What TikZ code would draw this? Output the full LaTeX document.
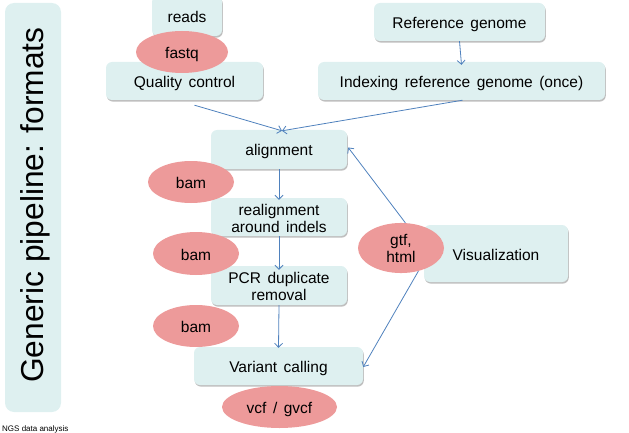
\documentclass[tikz,border=0pt]{standalone}
\usepackage{fontspec}
\setmainfont{Liberation Sans}
\usetikzlibrary{shapes.geometric,arrows.meta,shadows}
\definecolor{boxfill}{RGB}{222,240,240}
\definecolor{ellfill}{RGB}{237,154,154}
\definecolor{arrcol}{RGB}{79,129,189}
\newcommand{\myboxfont}{\fontsize{15.5}{17.3}\selectfont\spaceskip=0.42em\relax}
\tikzset{
  pbox/.style={rectangle, rounded corners=6pt, fill=boxfill, draw=none,
    drop shadow={shadow xshift=0.8pt, shadow yshift=-1.6pt, fill=black, opacity=0.25},
    align=center, inner sep=0pt, font=\myboxfont, text height=16.5pt, text depth=3.5pt},
  fmt/.style={ellipse, fill=ellfill, draw=none, inner sep=0pt, align=center,
    font=\myboxfont, text height=16.5pt, text depth=3.5pt},
  twoline/.style={text height=34pt, text depth=3.4pt},
  arr/.style={draw=arrcol, line width=0.8pt, -{Straight Barb[length=4pt,width=8pt]}},
}
\begin{document}
\begin{tikzpicture}[x=1pt,y=-1pt]
\useasboundingbox (0,0) rectangle (629,433);
\clip (0,0) rectangle (629,433);
% title panel
\node[rectangle, rounded corners=9pt, fill=boxfill, minimum width=56pt, minimum height=409pt] (panel) at (33,207.5) {};
\node[rotate=90, anchor=base, font=\fontsize{31.7}{36}\selectfont] (title) at (43,205) {Generic pipeline: formats};
% boxes
\node[pbox, minimum width=70pt, minimum height=40pt] (reads) at (187,16) {reads};
\node[pbox, minimum width=157pt, minimum height=38pt] (qc) at (184.5,81) {Quality control};
\node[pbox, minimum width=171pt, minimum height=38pt] (ref) at (459.5,22) {Reference genome};
\node[pbox, minimum width=287pt, minimum height=38pt] (index) at (461.5,81) {Indexing reference genome (once)};
\node[pbox, minimum width=136pt, minimum height=39pt] (align) at (279,149.5) {alignment};
\node[pbox, twoline, minimum width=136pt, minimum height=38pt] (realign) at (279,217) {realignment\\around indels};
\node[pbox, twoline, minimum width=136pt, minimum height=39pt] (pcr) at (279,285.5) {PCR duplicate\\removal};
\node[pbox, minimum width=169pt, minimum height=38pt] (var) at (278.5,366) {Variant calling};
\node[pbox, minimum width=144pt, minimum height=57pt] (vis) at (496,253.5) {Visualization};
% formats
\node[fmt, minimum width=92pt, minimum height=42pt] (fastq) at (182,52) {fastq};
\node[fmt, minimum width=86pt, minimum height=42pt] (bam1) at (191,182) {bam};
\node[fmt, minimum width=86pt, minimum height=43pt] (bam2) at (196,253.5) {bam};
\node[fmt, minimum width=86pt, minimum height=42pt] (bam3) at (196,326) {bam};
\node[fmt, minimum width=115pt, minimum height=42pt] (vcf) at (279.5,407) {vcf / gvcf};
\node[fmt, twoline, text height=32pt, minimum width=86pt, minimum height=44pt] (gtf) at (401,248) {gtf,\\html};
% connectors
\draw[arr] (ref.south) -- ([yshift=-3pt]index.north);
\draw[arr] ([xshift=10pt,yshift=-5pt]qc.south) -- ([xshift=3pt,yshift=-1pt]align.north);
\draw[arr] ([xshift=1pt]index.south) -- ([xshift=3pt,yshift=-1pt]align.north);
\draw[arr] (align.south) -- ([yshift=-2pt]realign.north);
\draw[arr] (realign.south) -- ([yshift=-4pt]pcr.north);
\draw[arr] (pcr.south) -- ([yshift=-1pt]var.north);
\draw[arr] (gtf.80) -- ([xshift=1pt,yshift=2pt]align.east);
\draw[arr] (gtf.-53) -- ([yshift=-1pt]var.east);
% footer
\node[anchor=base west, font=\fontsize{8}{9}\selectfont, inner sep=0pt] (footer) at (2,431) {NGS data analysis};
\end{tikzpicture}
\end{document}
